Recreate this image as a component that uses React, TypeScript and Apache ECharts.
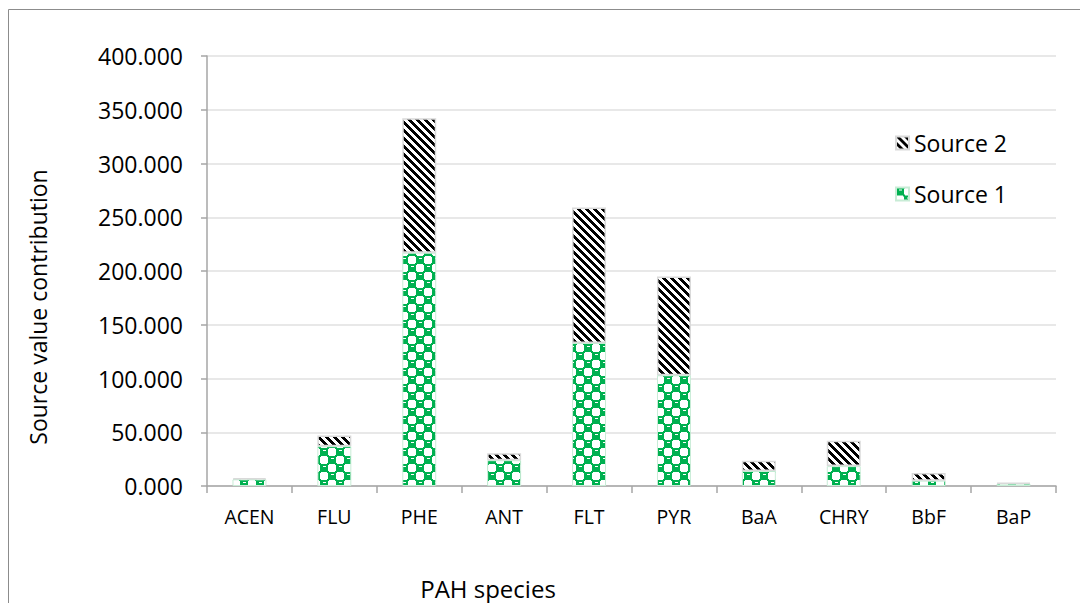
import React, { useEffect, useRef } from "react";
import * as echarts from "echarts";

// PAH species on the x axis
const species = ["ACEN", "FLU", "PHE", "ANT", "FLT", "PYR", "BaA", "CHRY", "BbF", "BaP"];
// Contribution of each source to every species
const source1 = [6.2, 37, 217, 24, 133, 103, 14, 18.5, 5, 2.2];
const source2 = [1.3, 10, 125, 6.5, 126, 92, 9.5, 23.5, 7.2, 0.9];
// Value axis ticks
const yMin = 0;
const yMax = 400;
const yStep = 50;
// Axis titles
const xTitle = "PAH species";
const yTitle = "Source value contribution";

const FONT = "'Open Sans', 'Liberation Sans', sans-serif";

// Diagonal black/white stripe tile for Source 2
function stripeTile(): HTMLCanvasElement {
  const c = document.createElement("canvas");
  const n = 8;
  c.width = n;
  c.height = n;
  const ctx = c.getContext("2d")!;
  const img = ctx.createImageData(n, n);
  for (let y = 0; y < n; y++) {
    for (let x = 0; x < n; x++) {
      const k = (((x - y) % n) + n) % n;
      const v = k < 4 ? 0 : 255;
      const i = (y * n + x) * 4;
      img.data[i] = v;
      img.data[i + 1] = v;
      img.data[i + 2] = v;
      img.data[i + 3] = 255;
    }
  }
  ctx.putImageData(img, 0, 0);
  return c;
}

// Green checker tile with rounded white cells and small highlights for Source 1
function checkerTile(): HTMLCanvasElement {
  const c = document.createElement("canvas");
  const n = 16;
  c.width = n;
  c.height = n;
  const ctx = c.getContext("2d")!;
  const green = "#00b050";
  ctx.fillStyle = green;
  ctx.fillRect(0, 0, n, n);
  ctx.fillStyle = "#ffffff";
  const holes = [
    [8, 0],
    [0, 8],
  ];
  for (const [hx, hy] of holes) {
    ctx.fillRect(hx, hy + 1, 8, 6);
    ctx.fillRect(hx + 1, hy, 6, 8);
  }
  // highlight dashes on the green cells
  const dots = [
    [0, 0],
    [8, 8],
  ];
  for (const [dx, dy] of dots) {
    ctx.fillRect(dx + 3, dy + 2, 3, 1);
  }
  return c;
}

export default function App() {
  const ref = useRef<HTMLDivElement>(null);

  useEffect(() => {
    if (!ref.current) return;
    const chart = echarts.init(ref.current, undefined, { renderer: "svg" });
    const stripes = { image: stripeTile(), repeat: "repeat" as const };
    const checker = { image: checkerTile(), repeat: "repeat" as const };

    chart.setOption({
      animation: false,
      backgroundColor: "#ffffff",
      textStyle: { fontFamily: FONT },
      graphic: [
        {
          type: "rect",
          shape: { x: 8.5, y: 9.5, width: 1200, height: 800 },
          style: { fill: "none", stroke: "#8c8c8c", lineWidth: 1 },
          silent: true,
        },
        {
          type: "text",
          x: 488,
          y: 588,
          style: {
            text: xTitle,
            fontFamily: FONT,
            fontSize: 24,
            lineHeight: 22,
            fill: "#000",
            align: "center",
            verticalAlign: "middle",
          },
          silent: true,
        },
        {
          type: "text",
          x: 38,
          y: 307,
          rotation: Math.PI / 2,
          style: {
            text: yTitle,
            fontFamily: FONT,
            fontSize: 23,
            fill: "#000",
            align: "center",
            verticalAlign: "middle",
          },
          silent: true,
        },
      ],
      grid: {
        left: 207,
        right: 24,
        top: 56,
        bottom: 117,
        containLabel: false,
        outerBoundsMode: "none",
      },
      legend: {
        orient: "vertical",
        left: 895,
        top: 130,
        padding: 0,
        itemWidth: 13,
        itemHeight: 13,
        itemGap: 25,
        icon: "rect",
        data: ["Source 2", "Source 1"],
        textStyle: { fontFamily: FONT, fontSize: 23, color: "#000", lineHeight: 26 },
      },
      xAxis: {
        type: "category",
        data: species,
        axisLine: { lineStyle: { color: "#a6a6a6", width: 1.5 } },
        axisTick: { show: true, length: 7, lineStyle: { color: "#a6a6a6", width: 1.5 } },
        axisLabel: { fontFamily: FONT, fontSize: 19.5, color: "#000", margin: 20 },
      },
      yAxis: {
        type: "value",
        min: yMin,
        max: yMax,
        interval: yStep,
        axisLine: { show: true, lineStyle: { color: "#a6a6a6", width: 1.5 } },
        axisTick: { show: true, length: 6, lineStyle: { color: "#a6a6a6", width: 1.5 } },
        axisLabel: {
          fontFamily: FONT,
          fontSize: 23,
          color: "#000",
          margin: 24,
          formatter: (v: number) => v.toFixed(3),
        },
        splitLine: { lineStyle: { color: "#e0e0e0", width: 1.5 } },
      },
      series: [
        {
          name: "Source 1",
          type: "bar",
          stack: "total",
          barWidth: "40%",
          data: source1,
          itemStyle: { color: checker, borderColor: "#c8ecd6", borderWidth: 1 },
        },
        {
          name: "Source 2",
          type: "bar",
          stack: "total",
          barWidth: "40%",
          data: source2,
          itemStyle: { color: stripes, borderColor: "#d9d9d9", borderWidth: 1.5 },
        },
      ],
    });

    return () => chart.dispose();
  }, []);

  return (
    <div
      ref={ref}
      style={{ position: "fixed", left: 0, top: 0, width: 1080, height: 603 }}
    />
  );
}
